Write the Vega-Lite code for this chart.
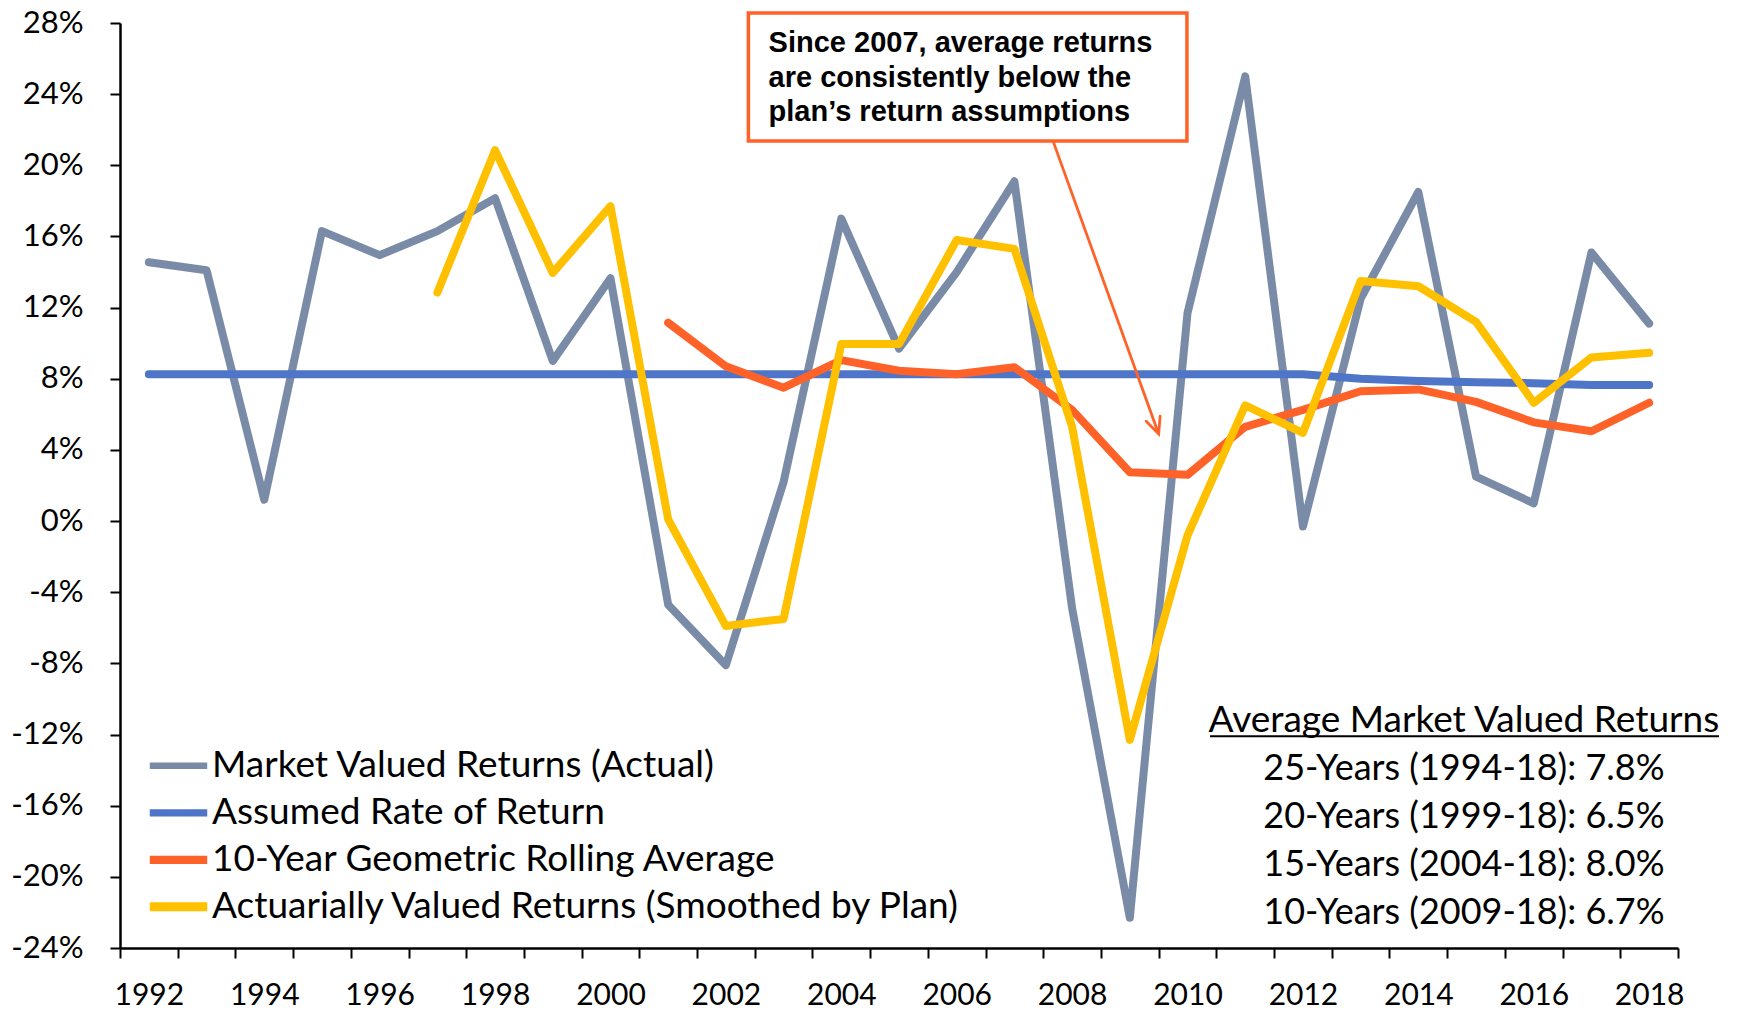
{
  "$schema": "https://vega.github.io/schema/vega-lite/v6.json",
  "autosize": {"type": "none"},
  "padding": {"left": 120, "top": 23, "right": 61, "bottom": 61},
  "width": 1558,
  "height": 925,
  "background": "white",
  "config": {"view": {"stroke": null}},
  "data": {"values": [
    {"year": 1992, "series": "Market Valued Returns (Actual)", "value": 14.55},
    {"year": 1993, "series": "Market Valued Returns (Actual)", "value": 14.1},
    {"year": 1994, "series": "Market Valued Returns (Actual)", "value": 1.2},
    {"year": 1995, "series": "Market Valued Returns (Actual)", "value": 16.3},
    {"year": 1996, "series": "Market Valued Returns (Actual)", "value": 14.95},
    {"year": 1997, "series": "Market Valued Returns (Actual)", "value": 16.3},
    {"year": 1998, "series": "Market Valued Returns (Actual)", "value": 18.15},
    {"year": 1999, "series": "Market Valued Returns (Actual)", "value": 9.0},
    {"year": 2000, "series": "Market Valued Returns (Actual)", "value": 13.65},
    {"year": 2001, "series": "Market Valued Returns (Actual)", "value": -4.7},
    {"year": 2002, "series": "Market Valued Returns (Actual)", "value": -8.1},
    {"year": 2003, "series": "Market Valued Returns (Actual)", "value": 2.2},
    {"year": 2004, "series": "Market Valued Returns (Actual)", "value": 17.0},
    {"year": 2005, "series": "Market Valued Returns (Actual)", "value": 9.7},
    {"year": 2006, "series": "Market Valued Returns (Actual)", "value": 14.0},
    {"year": 2007, "series": "Market Valued Returns (Actual)", "value": 19.1},
    {"year": 2008, "series": "Market Valued Returns (Actual)", "value": -4.9},
    {"year": 2009, "series": "Market Valued Returns (Actual)", "value": -22.3},
    {"year": 2010, "series": "Market Valued Returns (Actual)", "value": 11.7},
    {"year": 2011, "series": "Market Valued Returns (Actual)", "value": 25.0},
    {"year": 2012, "series": "Market Valued Returns (Actual)", "value": -0.3},
    {"year": 2013, "series": "Market Valued Returns (Actual)", "value": 12.5},
    {"year": 2014, "series": "Market Valued Returns (Actual)", "value": 18.5},
    {"year": 2015, "series": "Market Valued Returns (Actual)", "value": 2.5},
    {"year": 2016, "series": "Market Valued Returns (Actual)", "value": 1.0},
    {"year": 2017, "series": "Market Valued Returns (Actual)", "value": 15.1},
    {"year": 2018, "series": "Market Valued Returns (Actual)", "value": 11.1},
    {"year": 1992, "series": "Assumed Rate of Return", "value": 8.25},
    {"year": 1993, "series": "Assumed Rate of Return", "value": 8.25},
    {"year": 1994, "series": "Assumed Rate of Return", "value": 8.25},
    {"year": 1995, "series": "Assumed Rate of Return", "value": 8.25},
    {"year": 1996, "series": "Assumed Rate of Return", "value": 8.25},
    {"year": 1997, "series": "Assumed Rate of Return", "value": 8.25},
    {"year": 1998, "series": "Assumed Rate of Return", "value": 8.25},
    {"year": 1999, "series": "Assumed Rate of Return", "value": 8.25},
    {"year": 2000, "series": "Assumed Rate of Return", "value": 8.25},
    {"year": 2001, "series": "Assumed Rate of Return", "value": 8.25},
    {"year": 2002, "series": "Assumed Rate of Return", "value": 8.25},
    {"year": 2003, "series": "Assumed Rate of Return", "value": 8.25},
    {"year": 2004, "series": "Assumed Rate of Return", "value": 8.25},
    {"year": 2005, "series": "Assumed Rate of Return", "value": 8.25},
    {"year": 2006, "series": "Assumed Rate of Return", "value": 8.25},
    {"year": 2007, "series": "Assumed Rate of Return", "value": 8.25},
    {"year": 2008, "series": "Assumed Rate of Return", "value": 8.25},
    {"year": 2009, "series": "Assumed Rate of Return", "value": 8.25},
    {"year": 2010, "series": "Assumed Rate of Return", "value": 8.25},
    {"year": 2011, "series": "Assumed Rate of Return", "value": 8.25},
    {"year": 2012, "series": "Assumed Rate of Return", "value": 8.25},
    {"year": 2013, "series": "Assumed Rate of Return", "value": 8.0},
    {"year": 2014, "series": "Assumed Rate of Return", "value": 7.875},
    {"year": 2015, "series": "Assumed Rate of Return", "value": 7.8},
    {"year": 2016, "series": "Assumed Rate of Return", "value": 7.75},
    {"year": 2017, "series": "Assumed Rate of Return", "value": 7.65},
    {"year": 2018, "series": "Assumed Rate of Return", "value": 7.65},
    {"year": 2001, "series": "10-Year Geometric Rolling Average", "value": 11.15},
    {"year": 2002, "series": "10-Year Geometric Rolling Average", "value": 8.7},
    {"year": 2003, "series": "10-Year Geometric Rolling Average", "value": 7.5},
    {"year": 2004, "series": "10-Year Geometric Rolling Average", "value": 9.05},
    {"year": 2005, "series": "10-Year Geometric Rolling Average", "value": 8.45},
    {"year": 2006, "series": "10-Year Geometric Rolling Average", "value": 8.25},
    {"year": 2007, "series": "10-Year Geometric Rolling Average", "value": 8.65},
    {"year": 2008, "series": "10-Year Geometric Rolling Average", "value": 6.25},
    {"year": 2009, "series": "10-Year Geometric Rolling Average", "value": 2.75},
    {"year": 2010, "series": "10-Year Geometric Rolling Average", "value": 2.6},
    {"year": 2011, "series": "10-Year Geometric Rolling Average", "value": 5.3},
    {"year": 2012, "series": "10-Year Geometric Rolling Average", "value": 6.25},
    {"year": 2013, "series": "10-Year Geometric Rolling Average", "value": 7.3},
    {"year": 2014, "series": "10-Year Geometric Rolling Average", "value": 7.4},
    {"year": 2015, "series": "10-Year Geometric Rolling Average", "value": 6.7},
    {"year": 2016, "series": "10-Year Geometric Rolling Average", "value": 5.55},
    {"year": 2017, "series": "10-Year Geometric Rolling Average", "value": 5.05},
    {"year": 2018, "series": "10-Year Geometric Rolling Average", "value": 6.65},
    {"year": 1997, "series": "Actuarially Valued Returns (Smoothed by Plan)", "value": 12.85},
    {"year": 1998, "series": "Actuarially Valued Returns (Smoothed by Plan)", "value": 20.85},
    {"year": 1999, "series": "Actuarially Valued Returns (Smoothed by Plan)", "value": 13.95},
    {"year": 2000, "series": "Actuarially Valued Returns (Smoothed by Plan)", "value": 17.7},
    {"year": 2001, "series": "Actuarially Valued Returns (Smoothed by Plan)", "value": 0.1},
    {"year": 2002, "series": "Actuarially Valued Returns (Smoothed by Plan)", "value": -5.9},
    {"year": 2003, "series": "Actuarially Valued Returns (Smoothed by Plan)", "value": -5.5},
    {"year": 2004, "series": "Actuarially Valued Returns (Smoothed by Plan)", "value": 9.95},
    {"year": 2005, "series": "Actuarially Valued Returns (Smoothed by Plan)", "value": 9.95},
    {"year": 2006, "series": "Actuarially Valued Returns (Smoothed by Plan)", "value": 15.8},
    {"year": 2007, "series": "Actuarially Valued Returns (Smoothed by Plan)", "value": 15.3},
    {"year": 2008, "series": "Actuarially Valued Returns (Smoothed by Plan)", "value": 5.3},
    {"year": 2009, "series": "Actuarially Valued Returns (Smoothed by Plan)", "value": -12.3},
    {"year": 2010, "series": "Actuarially Valued Returns (Smoothed by Plan)", "value": -0.8},
    {"year": 2011, "series": "Actuarially Valued Returns (Smoothed by Plan)", "value": 6.5},
    {"year": 2012, "series": "Actuarially Valued Returns (Smoothed by Plan)", "value": 4.96},
    {"year": 2013, "series": "Actuarially Valued Returns (Smoothed by Plan)", "value": 13.5},
    {"year": 2014, "series": "Actuarially Valued Returns (Smoothed by Plan)", "value": 13.2},
    {"year": 2015, "series": "Actuarially Valued Returns (Smoothed by Plan)", "value": 11.2},
    {"year": 2016, "series": "Actuarially Valued Returns (Smoothed by Plan)", "value": 6.65},
    {"year": 2017, "series": "Actuarially Valued Returns (Smoothed by Plan)", "value": 9.2},
    {"year": 2018, "series": "Actuarially Valued Returns (Smoothed by Plan)", "value": 9.46}
  ]},
  "layer": [
    {
      "mark": {"type": "line", "strokeWidth": 8, "strokeCap": "round", "strokeJoin": "round"},
      "encoding": {
        "x": {
          "field": "year", "type": "quantitative",
          "scale": {"domain": [1991.5, 2018.5], "nice": false, "zero": false},
          "axis": {
            "title": null,
            "values": [1991.5, 1992.5, 1993.5, 1994.5, 1995.5, 1996.5, 1997.5, 1998.5, 1999.5, 2000.5, 2001.5, 2002.5, 2003.5, 2004.5, 2005.5, 2006.5, 2007.5, 2008.5, 2009.5, 2010.5, 2011.5, 2012.5, 2013.5, 2014.5, 2015.5, 2016.5, 2017.5, 2018.5],
            "labelExpr": "(datum.value + 0.5) % 2 === 0 && datum.value < 2018 ? format(datum.value + 0.5, 'd') : ''",
            "labelOffset": 28.85,
            "labelFlush": false,
            "labelOverlap": false,
            "labelBound": false,
            "grid": false,
            "domainColor": "black",
            "domainWidth": 2.5,
            "tickColor": "black",
            "tickWidth": 2,
            "tickSize": 10,
            "labelFont": "Lato",
            "labelFontSize": 30,
            "labelColor": "black",
            "labelPadding": 22
          }
        },
        "y": {
          "field": "value", "type": "quantitative",
          "scale": {"domain": [-24, 28], "nice": false, "zero": false},
          "axis": {
            "title": null,
            "values": [-24, -20, -16, -12, -8, -4, 0, 4, 8, 12, 16, 20, 24, 28],
            "labelExpr": "datum.value + '%'",
            "grid": false,
            "domainColor": "black",
            "domainWidth": 2.5,
            "tickColor": "black",
            "tickWidth": 2,
            "tickSize": 10,
            "labelFont": "Lato",
            "labelFontSize": 31,
            "labelColor": "black",
            "labelPadding": 27,
            "labelOverlap": false
          }
        },
        "color": {
          "field": "series", "type": "nominal",
          "scale": {
            "domain": ["Market Valued Returns (Actual)", "Assumed Rate of Return", "10-Year Geometric Rolling Average", "Actuarially Valued Returns (Smoothed by Plan)"],
            "range": ["#7A8BA8", "#4E75C8", "#FF6228", "#FFC000"]
          },
          "legend": {
            "orient": "none",
            "legendX": 25,
            "legendY": 719.5,
            "title": null,
            "symbolType": "stroke",
            "symbolSize": 3300,
            "symbolStrokeWidth": 8,
            "labelFont": "Lato",
            "labelFontSize": 37,
            "labelColor": "black",
            "labelLimit": 0,
            "labelOffset": 0,
            "clipHeight": 46.6,
            "rowPadding": 0,
            "padding": 0
          }
        },
        "strokeWidth": {
          "field": "series", "type": "nominal",
          "scale": {
            "domain": ["Market Valued Returns (Actual)", "Assumed Rate of Return", "10-Year Geometric Rolling Average", "Actuarially Valued Returns (Smoothed by Plan)"],
            "range": [6.5, 9, 8, 8]
          },
          "legend": null
        }
      }
    },
    {
      "data": {"values": [{"box": "annotation"}]},
      "mark": {"type": "rect", "fill": "white", "stroke": "#FF6228", "strokeWidth": 3.5},
      "encoding": {
        "x": {"datum": 2002.39, "type": "quantitative"},
        "x2": {"datum": 2009.99},
        "y": {"datum": 28.56, "type": "quantitative"},
        "y2": {"datum": 21.36}
      }
    },
    {
      "data": {"values": [{"note": ["Since 2007, average returns", "are consistently below the", "plan’s return assumptions"]}]},
      "mark": {"type": "text", "align": "left", "baseline": "middle", "font": "Liberation Sans", "fontWeight": "bold", "fontSize": 29, "lineHeight": 34.5, "color": "black"},
      "encoding": {
        "x": {"datum": 2002.74, "type": "quantitative"},
        "y": {"datum": 26.87, "type": "quantitative"},
        "text": {"field": "note"}
      }
    },
    {
      "data": {"values": [{"arrow": "pointer"}]},
      "mark": {"type": "rule", "stroke": "#FF6228", "strokeWidth": 2.8},
      "encoding": {
        "x": {"datum": 2007.67, "type": "quantitative"},
        "y": {"datum": 21.36, "type": "quantitative"},
        "x2": {"datum": 2009.5},
        "y2": {"datum": 4.9}
      }
    },
    {
      "data": {"values": [{"arrow": "head"}]},
      "mark": {"type": "point", "shape": "M-0.42,-0.91L0,0L0.42,-0.91", "filled": false, "stroke": "#FF6228", "strokeWidth": 2.8, "size": 1250, "angle": 340, "opacity": 1, "strokeCap": "round"},
      "encoding": {
        "x": {"datum": 2009.5, "type": "quantitative"},
        "y": {"datum": 4.9, "type": "quantitative"}
      }
    },
    {
      "data": {"values": [{"heading": "Average Market Valued Returns"}]},
      "mark": {"type": "text", "align": "center", "baseline": "middle", "font": "Lato", "fontSize": 37, "color": "black"},
      "encoding": {
        "x": {"datum": 2014.79, "type": "quantitative"},
        "y": {"datum": -11.24, "type": "quantitative"},
        "text": {"field": "heading"}
      }
    },
    {
      "data": {"values": [{"underline": "heading"}]},
      "mark": {"type": "rule", "stroke": "black", "strokeWidth": 2},
      "encoding": {
        "x": {"datum": 2010.39, "type": "quantitative"},
        "x2": {"datum": 2019.21},
        "y": {"datum": -12.1, "type": "quantitative"}
      }
    },
    {
      "data": {"values": [{"stats": ["25-Years (1994-18): 7.8%", "20-Years (1999-18): 6.5%", "15-Years (2004-18): 8.0%", "10-Years (2009-18): 6.7%"]}]},
      "mark": {"type": "text", "align": "center", "baseline": "middle", "font": "Lato", "fontSize": 36, "lineHeight": 48, "color": "black"},
      "encoding": {
        "x": {"datum": 2014.79, "type": "quantitative"},
        "y": {"datum": -13.91, "type": "quantitative"},
        "text": {"field": "stats"}
      }
    }
  ]
}
